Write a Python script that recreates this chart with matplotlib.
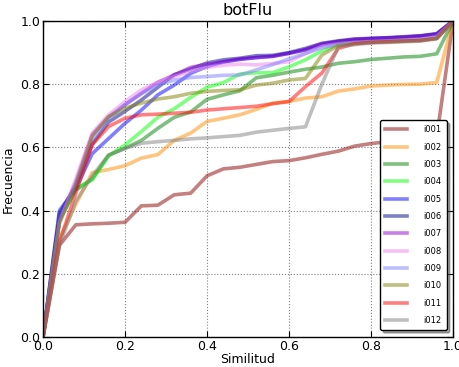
import matplotlib
matplotlib.use("Agg")
import matplotlib.pyplot as plt

# ─── DATA ────────────────────────────────────────────────────────────────────
similitud = [0.00, 0.04, 0.08, 0.12, 0.16, 0.20, 0.24, 0.28, 0.32, 0.36,
             0.40, 0.44, 0.48, 0.52, 0.56, 0.60, 0.64, 0.68, 0.72, 0.76,
             0.80, 0.84, 0.88, 0.92, 0.96, 1.00]

i001 = [0, 0.29, 0.355, 0.358, 0.36, 0.363, 0.415, 0.417, 0.45, 0.455, 0.51, 0.532, 0.537,
        0.546, 0.555, 0.558, 0.567, 0.578, 0.588, 0.604, 0.612, 0.618, 0.623, 0.628, 0.632, 1.0]
i002 = [0, 0.31, 0.42, 0.52, 0.53, 0.542, 0.566, 0.577, 0.622, 0.645, 0.682, 0.692, 0.703,
        0.72, 0.74, 0.745, 0.756, 0.76, 0.778, 0.785, 0.794, 0.797, 0.799, 0.80, 0.805, 1.0]
i003 = [0, 0.37, 0.465, 0.50, 0.575, 0.597, 0.622, 0.66, 0.695, 0.712, 0.752, 0.766, 0.779,
        0.82, 0.828, 0.838, 0.847, 0.854, 0.866, 0.871, 0.878, 0.882, 0.886, 0.888, 0.896, 1.0]
i004 = [0, 0.37, 0.47, 0.497, 0.573, 0.608, 0.65, 0.695, 0.722, 0.758, 0.79, 0.805, 0.832,
        0.836, 0.836, 0.855, 0.877, 0.905, 0.925, 0.93, 0.934, 0.936, 0.938, 0.94, 0.945, 1.0]
i005 = [0, 0.40, 0.47, 0.58, 0.628, 0.676, 0.718, 0.766, 0.797, 0.834, 0.856, 0.87, 0.878,
        0.884, 0.888, 0.898, 0.908, 0.925, 0.935, 0.94, 0.944, 0.946, 0.948, 0.952, 0.958, 1.0]
i006 = [0, 0.39, 0.48, 0.61, 0.68, 0.714, 0.75, 0.79, 0.83, 0.848, 0.867, 0.877, 0.882,
        0.89, 0.891, 0.90, 0.913, 0.929, 0.937, 0.943, 0.945, 0.947, 0.95, 0.953, 0.96, 1.0]
i007 = [0, 0.37, 0.49, 0.64, 0.697, 0.735, 0.771, 0.806, 0.829, 0.853, 0.863, 0.871, 0.88,
        0.884, 0.888, 0.897, 0.91, 0.928, 0.935, 0.942, 0.944, 0.946, 0.949, 0.952, 0.958, 1.0]
i008 = [0, 0.36, 0.50, 0.645, 0.703, 0.745, 0.782, 0.806, 0.824, 0.84, 0.853, 0.86, 0.863,
        0.861, 0.865, 0.871, 0.897, 0.92, 0.928, 0.932, 0.935, 0.937, 0.94, 0.942, 0.95, 1.0]
i009 = [0, 0.37, 0.48, 0.62, 0.69, 0.735, 0.77, 0.797, 0.813, 0.821, 0.824, 0.828, 0.829,
        0.845, 0.862, 0.88, 0.897, 0.915, 0.925, 0.93, 0.933, 0.935, 0.938, 0.94, 0.948, 1.0]
i010 = [0, 0.36, 0.48, 0.635, 0.697, 0.724, 0.74, 0.753, 0.76, 0.771, 0.777, 0.78, 0.782,
        0.797, 0.803, 0.813, 0.818, 0.892, 0.922, 0.928, 0.932, 0.934, 0.936, 0.938, 0.945, 1.0]
i011 = [0, 0.30, 0.455, 0.608, 0.666, 0.692, 0.703, 0.705, 0.708, 0.711, 0.718, 0.722, 0.726,
        0.73, 0.738, 0.745, 0.792, 0.835, 0.913, 0.928, 0.932, 0.934, 0.936, 0.938, 0.944, 1.0]
i012 = [0, 0.29, 0.43, 0.51, 0.576, 0.597, 0.613, 0.618, 0.622, 0.627, 0.63, 0.634, 0.638,
        0.648, 0.654, 0.66, 0.665, 0.80, 0.918, 0.925, 0.93, 0.932, 0.934, 0.936, 0.944, 1.0]

labels = ["i001", "i002", "i003", "i004", "i005", "i006",
          "i007", "i008", "i009", "i010", "i011", "i012"]
series = [i001, i002, i003, i004, i005, i006, i007, i008, i009, i010, i011, i012]
colors = ["darkred", "darkorange", "green", "lime", "blue", "darkblue",
          "darkviolet", "violet", "#7f7fff", "olive", "red", "gray"]
# ─────────────────────────────────────────────────────────────────────────────

fig = plt.figure(figsize=(4.6, 3.67), dpi=100, facecolor="white")
ax = fig.add_axes([0.0935, 0.0817, 0.8915, 0.8613])

for lab, ys, col in zip(labels, series, colors):
    ax.plot(similitud, ys, color=col, alpha=0.5, lw=2.6, label=lab)

ax.set_xlim(0, 1)
ax.set_ylim(0, 1)
ax.set_xticks([0, 0.2, 0.4, 0.6, 0.8, 1.0])
ax.set_yticks([0, 0.2, 0.4, 0.6, 0.8, 1.0])
ax.grid(True, color="gray", linestyle=":", lw=0.8)
ax.tick_params(direction="in", top=True, right=True, length=4, labelsize=9, pad=2)
for sp in ax.spines.values():
    sp.set_linewidth(1.0)

ax.set_title("botFlu", fontsize=11.5, pad=4)
ax.set_xlabel("Similitud", fontsize=9, labelpad=0)
ax.set_ylabel("Frecuencia", fontsize=9, labelpad=4)

leg = ax.legend(loc="lower right", bbox_to_anchor=(0.985, 0.022), borderaxespad=0,
                fontsize=6, labelspacing=1.0, handlelength=2.6, handletextpad=2.0,
                fancybox=True, shadow=True, framealpha=1, borderpad=0.6)
leg.get_frame().set_edgecolor("black")

fig.savefig("out.png", dpi=100, facecolor="white")
